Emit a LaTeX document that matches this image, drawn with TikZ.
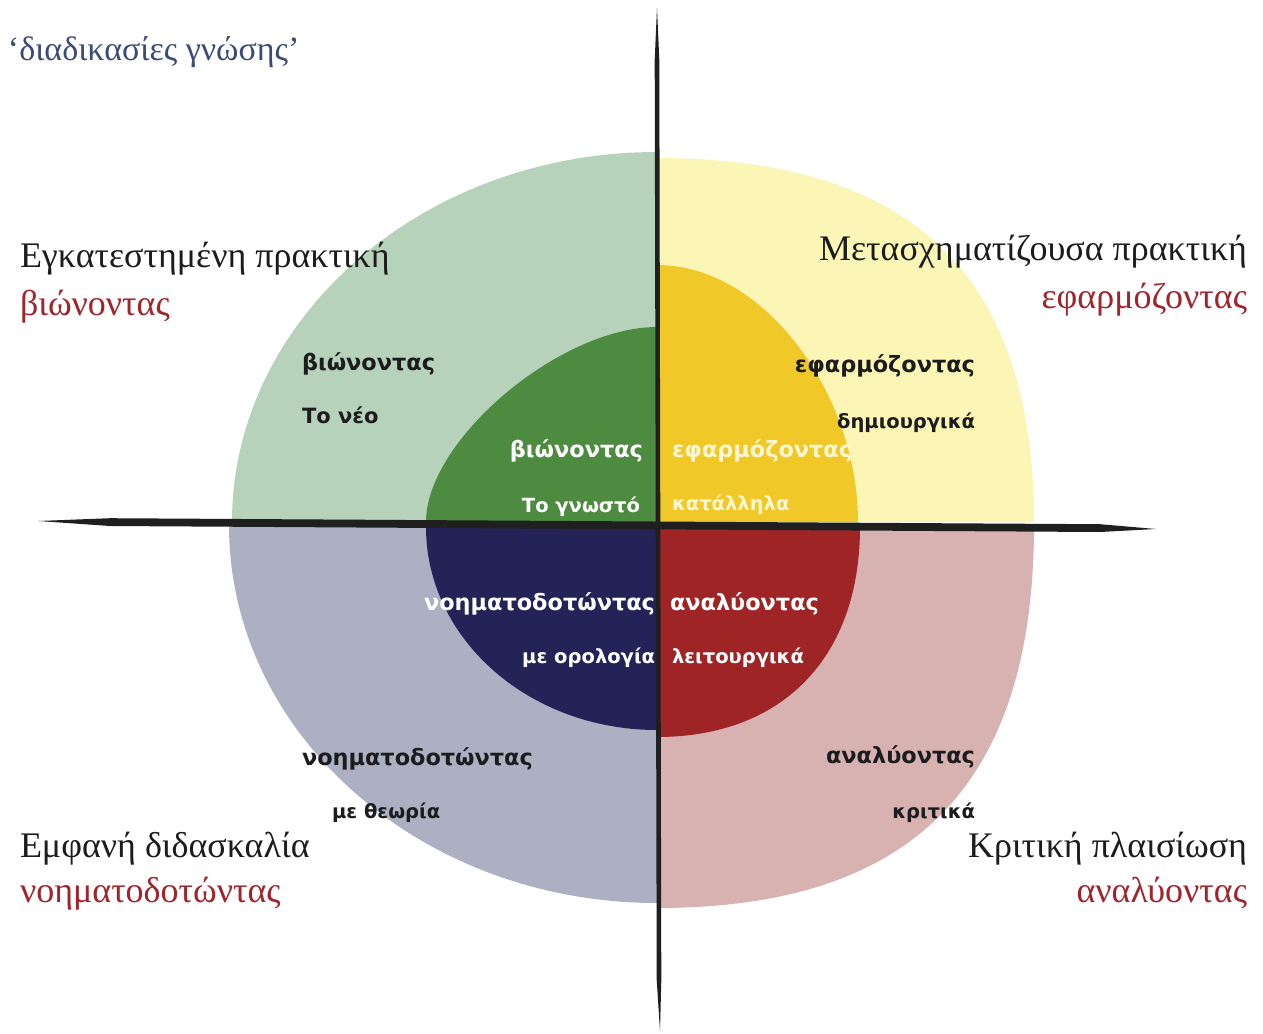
\documentclass[tikz,border=0pt]{standalone}
\usepackage{fontspec}
\setmainfont{Liberation Serif}
\newfontfamily\lblfont{DejaVu Sans}
\definecolor{lgreen}{RGB}{183,210,186}
\definecolor{lyellow}{RGB}{251,246,182}
\definecolor{lgrey}{RGB}{173,176,194}
\definecolor{lpink}{RGB}{216,178,177}
\definecolor{dgreen}{RGB}{77,139,64}
\definecolor{gold}{RGB}{240,200,40}
\definecolor{navy}{RGB}{36,35,88}
\definecolor{dred}{RGB}{158,36,38}
\definecolor{headred}{RGB}{160,36,44}
\definecolor{titleblue}{RGB}{60,74,120}
\definecolor{cream}{RGB}{253,246,210}
\definecolor{ink}{RGB}{28,28,30}
\begin{document}
\begin{tikzpicture}[x=1pt,y=-1pt,
  every node/.style={inner sep=0pt,outer sep=0pt},
  titletext/.style={text=titleblue,font=\fontsize{34}{38}\selectfont},
  headtext/.style={text=ink,font=\fontsize{36}{40}\selectfont},
  subred/.style={text=headred,font=\fontsize{36}{40}\selectfont},
  lblmain/.style={font=\lblfont\bfseries\fontsize{22.4}{26}\selectfont},
  lblsub/.style={font=\lblfont\bfseries\fontsize{19.5}{22}\selectfont},
  axis/.style={fill=black!88}]
\useasboundingbox (0,0) rectangle (1263,1033);
\fill[white] (0,0) rectangle (1263,1033);
% outer ring
\fill[lgreen] (232,522) .. controls (232,319) and (422,152) .. (657,152) -- (657,522) -- cycle;
\fill[lyellow] (657,158) .. controls (913,158) and (1034,276) .. (1034,522) -- (657,522) -- cycle;
\fill[lgrey] (229,525) .. controls (229,734) and (421,903) .. (657,903) -- (657,525) -- cycle;
\fill[lpink] (1034,525) .. controls (1034,785) and (913,908) .. (657,908) -- (657,525) -- cycle;
% inner core
\fill[dgreen] (426,522) .. controls (426,440) and (560,327) .. (657,327) -- (657,522) -- cycle;
\fill[gold] (858,522) .. controls (858,395) and (765,265) .. (657,265) -- (657,522) -- cycle;
\fill[navy] (426,527) .. controls (426,639) and (529,730) .. (657,730) -- (657,527) -- cycle;
\fill[dred] (860,527) .. controls (860,657) and (783,737) .. (657,737) -- (657,527) -- cycle;
% axes
\fill[axis] (38,521) -- (110,518.2) -- (1100,524.2) -- (1156,529) -- (1100,532) -- (110,526) -- cycle;
\fill[axis] (657,8) -- (659.3,60) -- (661.3,980) -- (660,1031) -- (656.7,980) -- (654.7,60) -- cycle;
% title
\node[titletext,anchor=base west] (title) at (8,61) {‘διαδικασίες γνώσης’};
% corner headings
\node[headtext,anchor=base west] (h1) at (20,267) {Εγκατεστημένη πρακτική};
\node[subred,anchor=base west] (s1) at (20,315) {βιώνοντας};
\node[headtext,anchor=base east] (h2) at (1247,260) {Μετασχηματίζουσα πρακτική};
\node[subred,anchor=base east] (s2) at (1247,308) {εφαρμόζοντας};
\node[headtext,anchor=base west] (h3) at (20,857) {Εμφανή διδασκαλία};
\node[subred,anchor=base west] (s3) at (20,902) {νοηματοδοτώντας};
\node[headtext,anchor=base east] (h4) at (1247,857) {Κριτική πλαισίωση};
\node[subred,anchor=base east] (s4) at (1247,902) {αναλύοντας};
% outer ring labels
\node[lblmain,text=ink,anchor=base west] (o1a) at (302,370) {βιώνοντας};
\node[lblsub,text=ink,anchor=base west,font=\lblfont\bfseries\fontsize{21}{24}\selectfont] (o1b) at (302,423) {Το νέο};
\node[lblmain,text=ink,anchor=base east] (o2a) at (975,372) {εφαρμόζοντας};
\node[lblsub,text=ink,anchor=base east] (o2b) at (975,428) {δημιουργικά};
\node[lblmain,text=ink,anchor=base west] (o3a) at (302,765) {νοηματοδοτώντας};
\node[lblsub,text=ink,anchor=base west] (o3b) at (332,818) {με θεωρία};
\node[lblmain,text=ink,anchor=base east] (o4a) at (975,763) {αναλύοντας};
\node[lblsub,text=ink,anchor=base east] (o4b) at (975,818) {κριτικά};
% inner core labels
\node[lblmain,text=white,anchor=base east] (i1a) at (643,457) {βιώνοντας};
\node[lblsub,text=white,anchor=base east] (i1b) at (640,512) {Το γνωστό};
\node[lblmain,text=cream,anchor=base west] (i2a) at (672,457) {εφαρμόζοντας};
\node[lblsub,text=cream,anchor=base west] (i2b) at (672,510) {κατάλληλα};
\node[lblmain,text=white,anchor=base east] (i3a) at (655,610) {νοηματοδοτώντας};
\node[lblsub,text=white,anchor=base east] (i3b) at (655,663) {με ορολογία};
\node[lblmain,text=white,anchor=base west] (i4a) at (670,610) {αναλύοντας};
\node[lblsub,text=white,anchor=base west] (i4b) at (672,663) {λειτουργικά};
\end{tikzpicture}
\end{document}
